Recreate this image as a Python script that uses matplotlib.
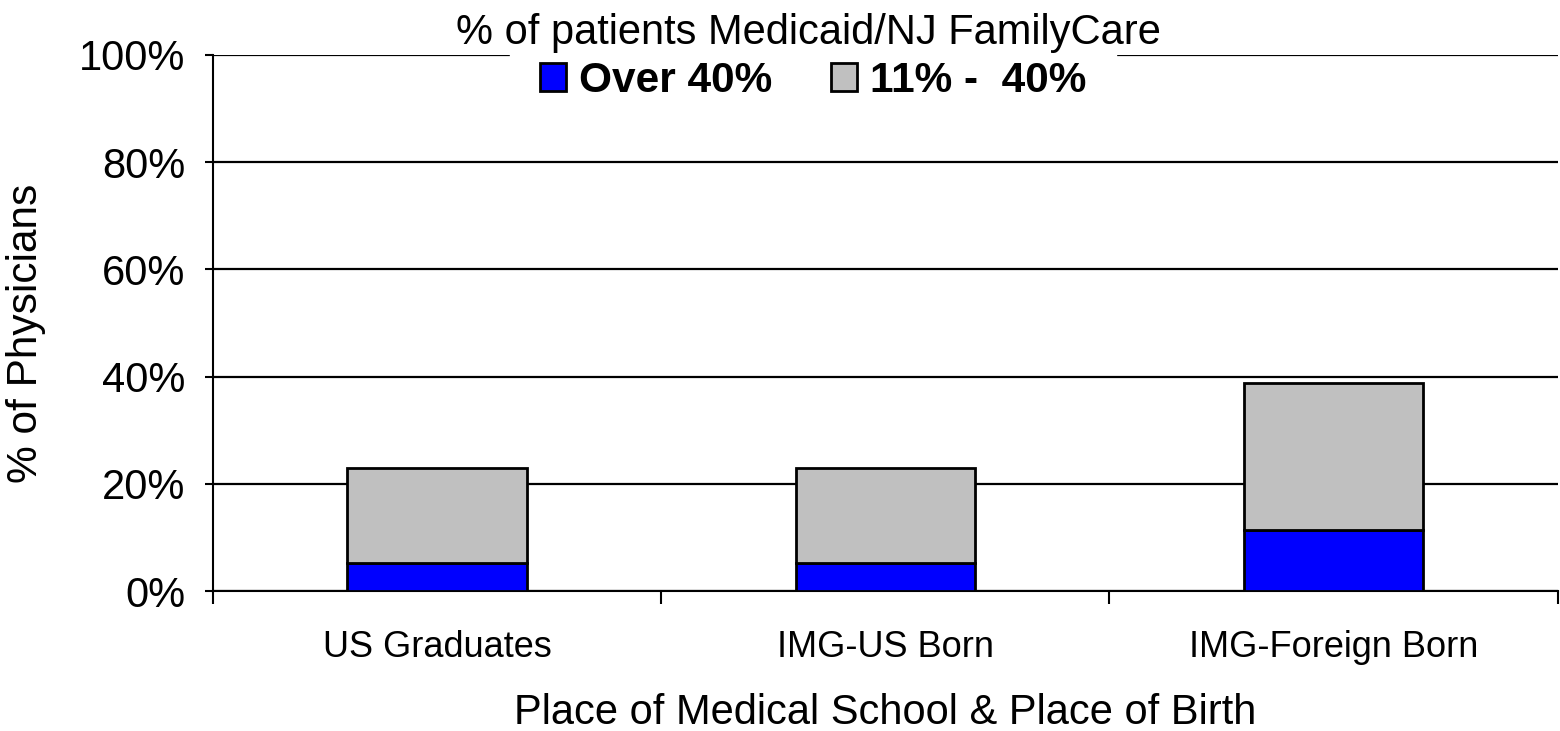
import matplotlib.pyplot as plt
import numpy as np

plt.rcParams['font.family'] = ['Liberation Sans', 'DejaVu Sans']

categories = ['US Graduates', 'IMG-US Born', 'IMG-Foreign Born']
over_40 = [5.2, 5.2, 11.4]
between_11_40 = [17.7, 17.7, 27.4]
y_ticks = [0, 20, 40, 60, 80, 100]

fig = plt.figure(figsize=(15.6, 7.31), dpi=100)
ax = fig.add_axes([0.1365, 0.1915, 0.862, 0.7333])

x = np.arange(len(categories))
ax.bar(x, over_40, width=0.4, color='#0000ff', edgecolor='black', linewidth=2,
       label='Over 40%', zorder=3)
ax.bar(x, between_11_40, width=0.4, bottom=over_40, color='#c0c0c0',
       edgecolor='black', linewidth=2, label='11% -  40%', zorder=3)

ax.set_xlim(-0.5, 2.5)
ax.set_ylim(0, 100)
ax.set_yticks(y_ticks)
ax.set_yticklabels([f'{v}%' for v in y_ticks], fontsize=30)
ax.yaxis.grid(True, color='black', linewidth=1.6, zorder=0)

# ticks at the category borders, labels in the middle
ax.set_xticks([-0.5, 0.5, 1.5, 2.5])
ax.set_xticklabels([])
ax.set_xticks(x, minor=True)
ax.set_xticklabels(categories, minor=True, fontsize=26)
ax.tick_params(axis='x', which='minor', length=0, pad=28)
ax.tick_params(axis='x', which='major', length=9, width=1.5, direction='out')
ax.tick_params(axis='y', length=6, width=1.5, direction='out', pad=14)

for s in ['top', 'right']:
    ax.spines[s].set_visible(False)
ax.spines['left'].set_linewidth(1.5)
ax.spines['bottom'].set_linewidth(1.5)

ax.set_xlabel('Place of Medical School & Place of Birth', fontsize=30, labelpad=20)
ax.set_ylabel('% of Physicians', fontsize=30.5)
ax.yaxis.set_label_coords(-0.1241, 0.481)

# legend box (white, no border) covering the top gridline, title drawn on top
leg = ax.legend(loc='center', bbox_to_anchor=(813 / 1560, 1 - 81 / 731),
                bbox_transform=fig.transFigure, ncol=2,
                prop={'size': 30.5, 'weight': 'bold'}, frameon=True, framealpha=1,
                edgecolor='white', fancybox=False, handlelength=0.62,
                handleheight=0.62, handletextpad=0.3, columnspacing=1.4,
                borderpad=0.7)
leg.set_zorder(5)
fig.text(808 / 1560, 1 - 33 / 731, '% of patients Medicaid/NJ FamilyCare',
         fontsize=30, ha='center', va='center', zorder=10)

fig.savefig('out.png', dpi=100)
